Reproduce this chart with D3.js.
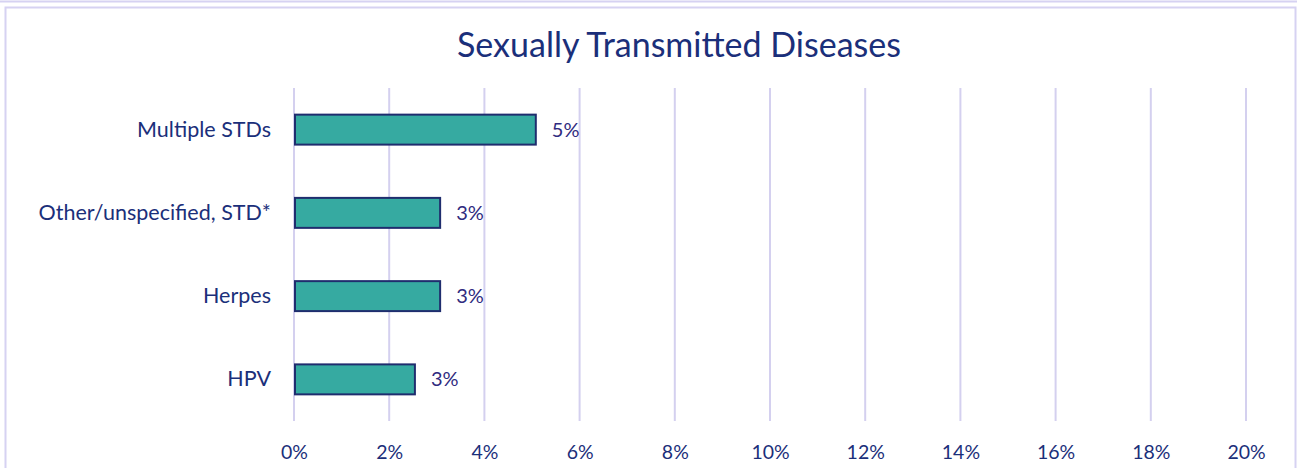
<!DOCTYPE html>
<html>
<head>
<meta charset="utf-8">
<script src="https://cdn.jsdelivr.net/npm/d3@7"></script>
<style>
  body { margin: 0; background: #fff; }
  svg { display: block; font-family: Lato, "Open Sans", sans-serif; }
</style>
</head>
<body>
<div id="chart"></div>
<script>
// chart data
var categories = ["Multiple STDs", "Other/unspecified, STD*", "Herpes", "HPV"];
var values = [5.08, 3.07, 3.07, 2.54];
var valueLabels = ["5%", "3%", "3%", "3%"];
var ticks = [0, 2, 4, 6, 8, 10, 12, 14, 16, 18, 20];

var svgWidth = 1297;
var svgHeight = 468;

var margin = { top: 88, right: 51, bottom: 47, left: 294 };
var width = svgWidth - margin.left - margin.right;
var height = svgHeight - margin.top - margin.bottom;

var svg = d3.select("#chart")
  .append("svg")
  .attr("width", svgWidth)
  .attr("height", svgHeight);

// outer frames
svg.append("line")
  .attr("x1", 0).attr("x2", svgWidth)
  .attr("y1", 1.5).attr("y2", 1.5)
  .attr("stroke", "#d6d2f2")
  .attr("stroke-width", 2);

svg.append("rect")
  .attr("x", 5.5).attr("y", 7.5)
  .attr("width", svgWidth - 7)
  .attr("height", svgHeight)
  .attr("fill", "none")
  .attr("stroke", "#d6d2f2")
  .attr("stroke-width", 2);

// title
svg.append("text")
  .attr("x", 679)
  .attr("y", 57)
  .attr("text-anchor", "middle")
  .attr("font-size", "34px")
  .attr("fill", "#1b2f7a")
  .text("Sexually Transmitted Diseases");

var chartGroup = svg.append("g")
  .attr("transform", `translate(${margin.left}, ${margin.top})`);

var xScale = d3.scaleLinear()
  .domain([0, 20])
  .range([0, width]);

var yScale = d3.scaleBand()
  .domain(categories)
  .range([0, height])
  .paddingInner(0.64)
  .paddingOuter(0.32);

// gridlines
chartGroup.append("g")
  .selectAll("line")
  .data(ticks)
  .enter()
  .append("line")
  .attr("x1", d => xScale(d))
  .attr("x2", d => xScale(d))
  .attr("y1", 0)
  .attr("y2", height)
  .attr("stroke", "#d4d0ef")
  .attr("stroke-width", 2);

// x axis
var bottomAxis = d3.axisBottom(xScale)
  .tickValues(ticks)
  .tickSize(0)
  .tickPadding(24)
  .tickFormat(d => d + "%");

var xAxis = chartGroup.append("g")
  .attr("transform", `translate(0, ${height})`)
  .call(bottomAxis);
xAxis.select(".domain").remove();
xAxis.selectAll("text")
  .attr("font-family", "Lato, 'Open Sans', sans-serif")
  .attr("font-size", "19.5px")
  .attr("fill", "#1b2f7a");

// y axis
var leftAxis = d3.axisLeft(yScale)
  .tickSize(0)
  .tickPadding(23);

var yAxis = chartGroup.append("g")
  .call(leftAxis);
yAxis.select(".domain").remove();
yAxis.selectAll("text")
  .attr("font-family", "Lato, 'Open Sans', sans-serif")
  .attr("font-size", "21.5px")
  .attr("fill", "#1b2f7a");

// bars
chartGroup.append("g")
  .selectAll("rect")
  .data(values)
  .enter()
  .append("rect")
  .attr("x", 1)
  .attr("y", (d, i) => yScale(categories[i]))
  .attr("width", d => xScale(d) - 1)
  .attr("height", yScale.bandwidth())
  .attr("fill", "#36aaa1")
  .attr("stroke", "#1f2d6e")
  .attr("stroke-width", 2);

// value labels
chartGroup.append("g")
  .selectAll("text")
  .data(values)
  .enter()
  .append("text")
  .attr("x", d => xScale(d) + 16)
  .attr("y", (d, i) => yScale(categories[i]) + yScale.bandwidth() / 2)
  .attr("dy", "0.35em")
  .attr("font-size", "20px")
  .attr("fill", "#302b80")
  .text((d, i) => valueLabels[i]);
</script>
</body>
</html>
